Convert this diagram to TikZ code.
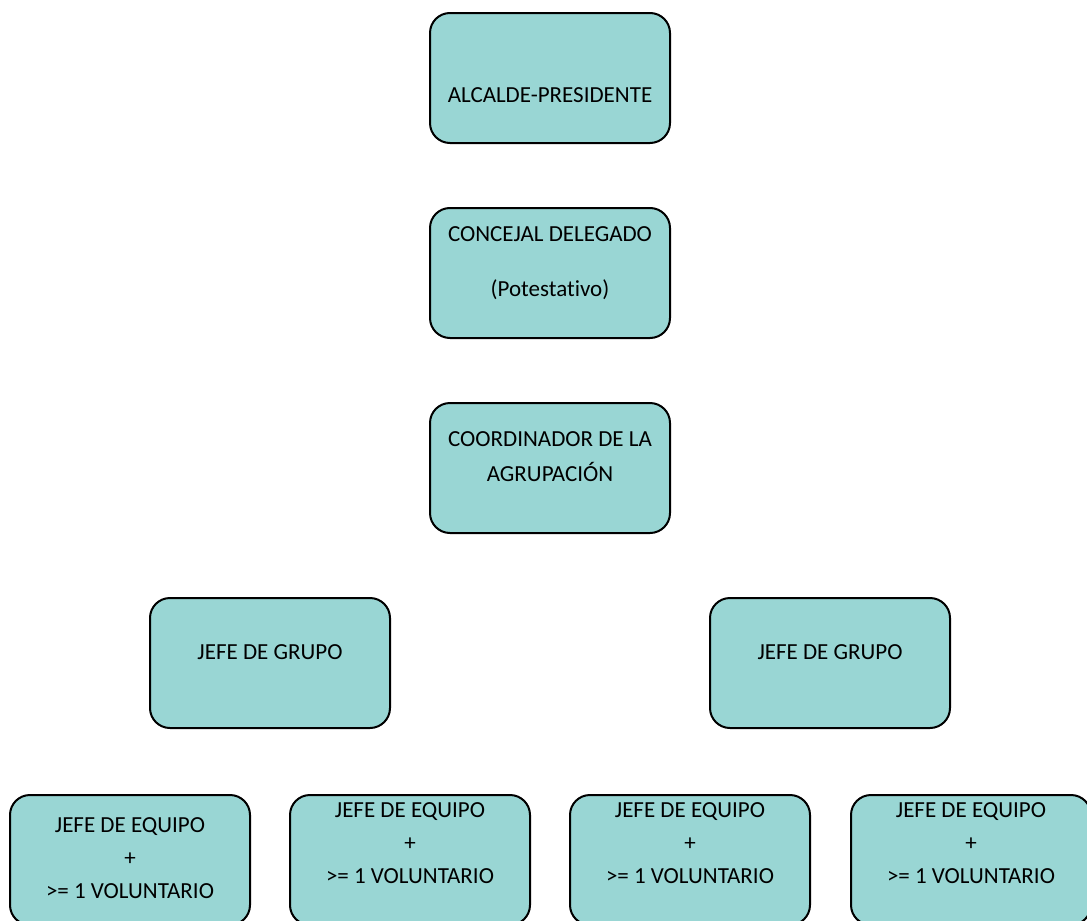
\documentclass[tikz,border=0pt]{standalone}
\usepackage{fontspec}
\setmainfont{Carlito}[Ligatures=NoCommon]
\definecolor{boxfill}{RGB}{153,214,212}
\tikzset{
    every node/.style = {font=\fontsize{11.5}{16.5}\selectfont, align=center},
    box/.style = {draw, fill=boxfill, line width=1pt, rounded corners=10pt,
                  minimum width=120pt, minimum height=65pt, inner sep=0pt}
}

\begin{document}
\begin{tikzpicture}[x=0.5pt, y=-0.5pt]
        \clip (0,0) rectangle (1087,921);

        \node[box] (alc) at (550,78) {};
        \node[box] (con) at (550,273) {};
        \node[box] (coo) at (550,468) {};
        \node[box] (jg1) at (270,663) {};
        \node[box] (jg2) at (830,663) {};
        \node[box] (je1) at (130,860) {};
        \node[box] (je2) at (410,860) {};
        \node[box] (je3) at (690,860) {};
        \node[box] (je4) at (971,860) {};

        \node (alc-t) at (550,95) {ALCALDE-PRESIDENTE};
        \node (con-t) at (550,263) {CONCEJAL DELEGADO\\[11pt](Potestativo)};
        \node (coo-t) at (550,457) {COORDINADOR DE LA\\[1pt]AGRUPACIÓN};
        \node (jg1-t) at (270,652) {JEFE DE GRUPO};
        \node (jg2-t) at (830,652) {JEFE DE GRUPO};
        \node (je1-t) at (130,858) {JEFE DE EQUIPO\\+\\>= 1 VOLUNTARIO};
        \node (je2-t) at (410,843) {JEFE DE EQUIPO\\+\\>= 1 VOLUNTARIO};
        \node (je3-t) at (690,843) {JEFE DE EQUIPO\\+\\>= 1 VOLUNTARIO};
        \node (je4-t) at (971,843) {JEFE DE EQUIPO\\+\\>= 1 VOLUNTARIO};
\end{tikzpicture}
\end{document}
